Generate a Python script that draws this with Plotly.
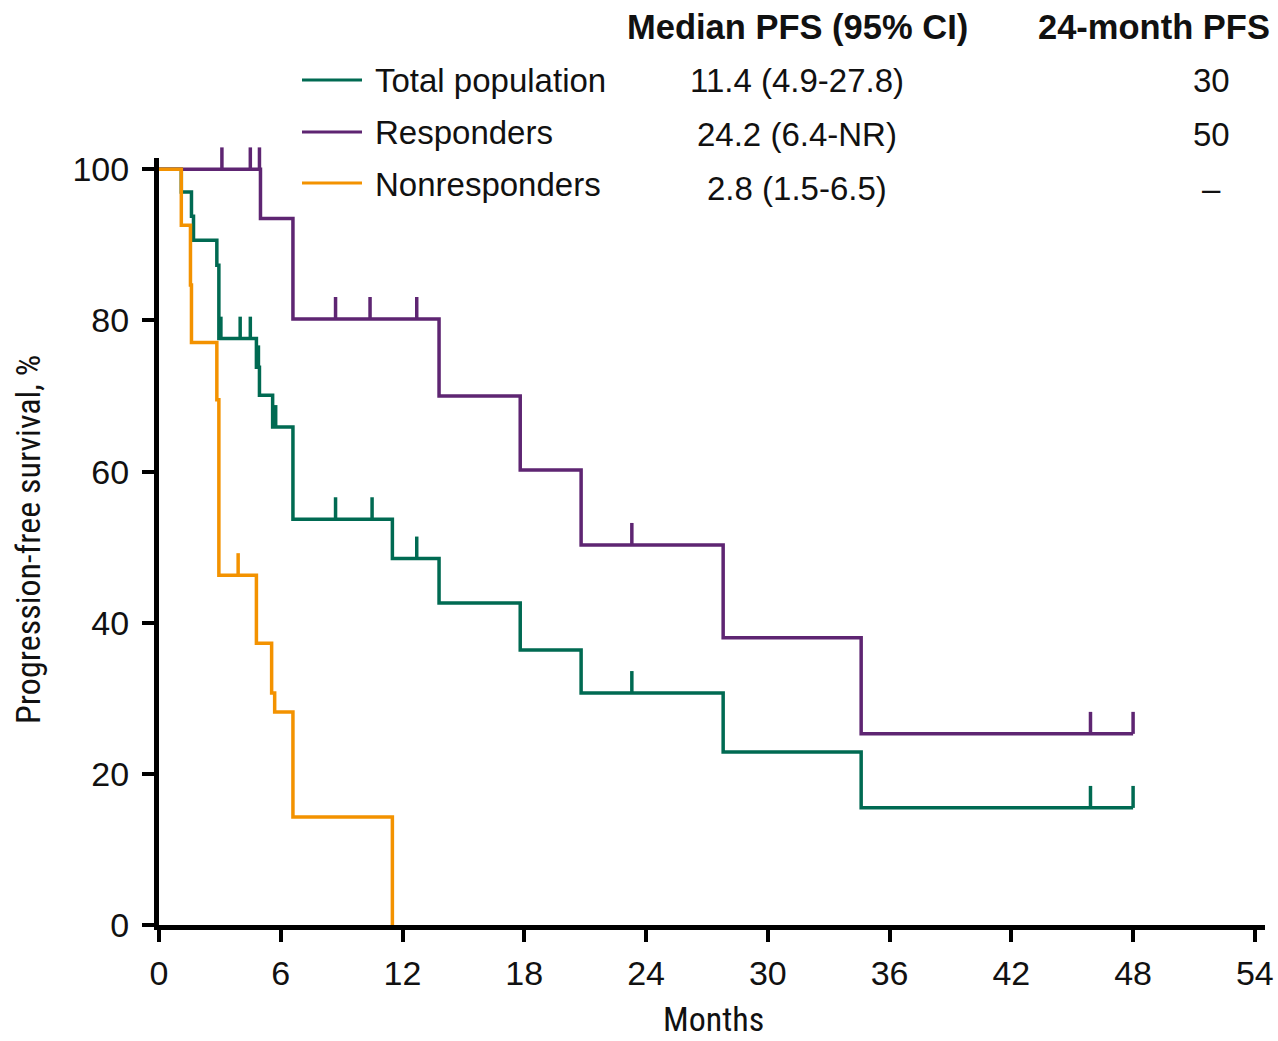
import plotly.graph_objects as go

# ---- data ----
total_t = [0, 1.1, 1.6, 1.7, 2.85, 2.95, 4.8, 4.95, 5.6, 6.6, 11.5, 13.8, 17.8, 20.8, 27.8, 34.6, 48.0]
total_s = [100, 97.0, 93.8, 90.6, 87.3, 77.6, 73.8, 70.1, 65.9, 53.7, 48.5, 42.6, 36.4, 30.7, 22.9, 15.5, 15.5]
total_cens = [3.05, 4.0, 4.5, 4.9, 5.75, 8.7, 10.5, 12.7, 23.3, 45.9, 48.0]

resp_t = [0, 5.0, 6.6, 13.8, 17.8, 20.8, 27.8, 34.6, 48.0]
resp_s = [100, 93.5, 80.2, 70.0, 60.2, 50.3, 38.0, 25.3, 25.3]
resp_cens = [3.1, 4.5, 4.95, 8.7, 10.4, 12.7, 23.3, 45.9, 48.0]

nonresp_t = [0, 1.1, 1.55, 1.6, 2.85, 2.95, 4.8, 5.55, 5.7, 6.6, 11.5]
nonresp_s = [100, 92.6, 84.7, 77.1, 69.5, 46.3, 37.3, 30.7, 28.2, 14.3, 0]
nonresp_cens = [3.9]

series_names = ["Total population", "Responders", "Nonresponders"]
median_pfs = ["11.4 (4.9-27.8)", "24.2 (6.4-NR)", "2.8 (1.5-6.5)"]
pfs24 = ["30", "50", "\u2013"]
x_ticks = [0, 6, 12, 18, 24, 30, 36, 42, 48, 54]
y_ticks = [0, 20, 40, 60, 80, 100]

colors = ["#006A52", "#5E2572", "#F39200"]

def surv_at(ts, ss, t):
    val = ss[0]
    for ti, si in zip(ts, ss):
        if ti <= t:
            val = si
    return val

TICK_HALF = 1.45  # half of the censor tick height, in % units

fig = go.Figure()
series = [(total_t, total_s, total_cens), (resp_t, resp_s, resp_cens), (nonresp_t, nonresp_s, nonresp_cens)]
for (ts, ss, cs), name, col in zip(series, series_names, colors):
    fig.add_trace(go.Scatter(x=ts, y=ss, mode="lines", line=dict(color=col, width=3.5, shape="hv"),
                             name=name, showlegend=False))
    cy = [surv_at(ts, ss, c) + TICK_HALF for c in cs]
    fig.add_trace(go.Scatter(x=cs, y=cy, mode="markers", cliponaxis=False, showlegend=False,
                             marker=dict(symbol="line-ns-open", size=15.7, color=col,
                                         line=dict(color=col, width=3.5))))

base_font = "Liberation Sans, Arial, sans-serif"
narrow_font = "Liberation Sans Narrow, Roboto Condensed, DejaVu Sans Condensed, sans-serif"

fig.update_xaxes(range=[0, 54.5], tickvals=x_ticks, showgrid=False, zeroline=False, automargin=False,
                 showline=True, linewidth=5, linecolor="black",
                 ticks="outside", ticklen=12, tickwidth=3.5, tickcolor="black",
                 tickfont=dict(family=base_font, size=34, color="#111"), ticklabelstandoff=2)
fig.update_yaxes(range=[0, 101.5], tickvals=y_ticks, showgrid=False, zeroline=False, automargin=False,
                 showline=True, linewidth=5, linecolor="black",
                 ticks="outside", ticklen=12, tickwidth=3.5, tickcolor="black",
                 tickfont=dict(family=base_font, size=34, color="#111"), ticklabelstandoff=6)

# paper coords helpers (plot area: x 159..1265 px, y 158..925 px)
def px(xp):
    return (xp - 159) / 1106.0

def py(yp):
    return (925 - yp) / 767.0

shapes = []
annotations = []
legend_y = [80, 132, 183]
row_y = [81, 135, 188]
for i in range(3):
    shapes.append(dict(type="line", xref="paper", yref="paper", x0=px(302), x1=px(362),
                       y0=py(legend_y[i]), y1=py(legend_y[i]), line=dict(color=colors[i], width=3)))
    annotations.append(dict(xref="paper", yref="paper", x=px(373), y=py(legend_y[i] + 1), text=series_names[i],
                            showarrow=False, xanchor="left", yanchor="middle",
                            font=dict(family=base_font, size=33, color="#111")))
    annotations.append(dict(xref="paper", yref="paper", x=px(797), y=py(row_y[i]), text=median_pfs[i],
                            showarrow=False, xanchor="center", yanchor="middle",
                            font=dict(family=base_font, size=33, color="#111")))
    annotations.append(dict(xref="paper", yref="paper", x=px(1211), y=py(row_y[i]), text=pfs24[i],
                            showarrow=False, xanchor="center", yanchor="middle",
                            font=dict(family=base_font, size=33, color="#111")))

annotations.append(dict(xref="paper", yref="paper", x=px(797), y=py(27), text="<b>Median PFS (95% CI)</b>",
                        showarrow=False, xanchor="center", yanchor="middle",
                        font=dict(family=base_font, size=34.5, color="#111")))
annotations.append(dict(xref="paper", yref="paper", x=px(1036), y=py(27), text="<b>24-month PFS (%)</b>",
                        showarrow=False, xanchor="left", yanchor="middle",
                        font=dict(family=base_font, size=34.5, color="#111")))
annotations.append(dict(xref="paper", yref="paper", x=px(713), y=py(1019), text="Months",
                        showarrow=False, xanchor="center", yanchor="middle",
                        font=dict(family=narrow_font, size=34, color="#111")))
annotations.append(dict(xref="paper", yref="paper", x=px(28), y=py(540), text="Progression-free survival, %",
                        showarrow=False, xanchor="center", yanchor="middle", textangle=-90,
                        font=dict(family=narrow_font, size=34, color="#111")))

fig.update_layout(width=1278, height=1041, margin=dict(l=159, r=13, t=158, b=116),
                  paper_bgcolor="white", plot_bgcolor="white", showlegend=False,
                  shapes=shapes, annotations=annotations)

fig.write_html("out.html")
